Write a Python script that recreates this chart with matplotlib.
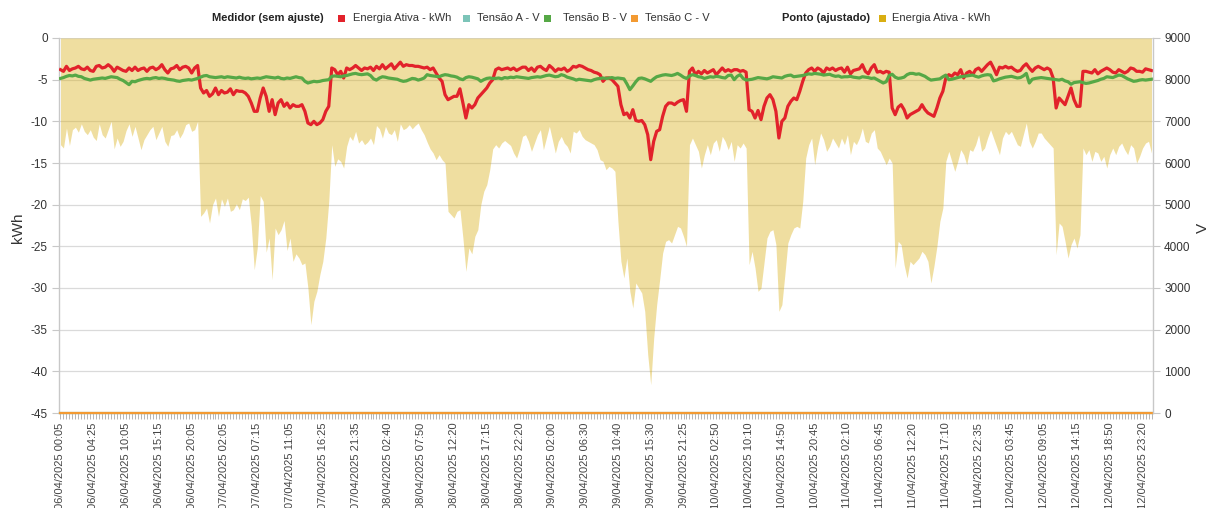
import matplotlib
matplotlib.use("Agg")
import matplotlib.pyplot as plt
from matplotlib.patches import Rectangle
import numpy as np

plt.rcParams['font.family'] = ['Liberation Sans', 'DejaVu Sans']
plt.rcParams['axes.unicode_minus'] = False

# ---------------- data ----------------
tick_labels = [
    "06/04/2025 00:05", "06/04/2025 04:25", "06/04/2025 10:05", "06/04/2025 15:15",
    "06/04/2025 20:05", "07/04/2025 02:05", "07/04/2025 07:15", "07/04/2025 11:05",
    "07/04/2025 16:25", "07/04/2025 21:35", "08/04/2025 02:40", "08/04/2025 07:50",
    "08/04/2025 12:20", "08/04/2025 17:15", "08/04/2025 22:20", "09/04/2025 02:00",
    "09/04/2025 06:30", "09/04/2025 10:40", "09/04/2025 15:30", "09/04/2025 21:25",
    "10/04/2025 02:50", "10/04/2025 10:10", "10/04/2025 14:50", "10/04/2025 20:45",
    "11/04/2025 02:10", "11/04/2025 06:45", "11/04/2025 12:20", "11/04/2025 17:10",
    "11/04/2025 22:35", "12/04/2025 03:45", "12/04/2025 09:05", "12/04/2025 14:15",
    "12/04/2025 18:50", "12/04/2025 23:20",
]
label_every = 11

# Ponto (ajustado) - Energia Ativa - kWh
ponto_kwh = [
    -12.8, -13.2, -10.8, -12.9, -11.0, -10.7, -11.3, -10.3, -11.2, -11.6,
    -11.0, -11.9, -12.3, -10.3, -11.6, -12.0, -11.0, -10.0, -13.3, -12.0,
    -13.0, -12.4, -11.1, -10.3, -11.8, -10.6, -12.0, -13.4, -12.2, -11.6,
    -11.0, -10.6, -12.2, -11.4, -10.6, -12.4, -13.0, -11.7, -11.6, -11.0,
    -12.0, -11.4, -10.4, -10.2, -11.2, -11.0, -10.0,
    -21.4, -21.0, -20.4, -22.2, -20.0, -19.2, -21.4, -19.3, -20.2, -19.2,
    -20.8, -20.6, -19.9, -20.6, -19.3, -19.5, -19.1, -22.5, -27.8, -25.2,
    -18.9, -19.6, -25.7, -24.0, -29.0, -22.8, -23.6, -23.0, -21.9, -25.5,
    -24.0, -26.8, -25.9, -26.4, -27.2, -27.0, -30.0, -34.4, -31.6, -30.4,
    -28.4, -26.8, -24.0, -19.6, -12.8,
    -15.4, -14.5, -14.8, -15.6, -13.0, -11.8, -12.3, -11.2, -12.6, -12.2,
    -12.8, -12.5, -12.0, -12.8, -10.5, -10.9, -12.0, -10.6, -11.4, -11.6,
    -11.0, -12.4, -10.3, -11.0, -10.8, -10.4, -10.9, -10.5, -10.2, -11.0,
    -11.6, -12.5, -13.3, -13.8, -14.6, -14.0, -14.6, -15.0,
    -20.8, -21.2, -21.6, -20.8, -20.6, -24.0, -28.0, -25.2, -25.9, -23.8,
    -23.0, -20.0, -18.4, -17.6, -15.8, -13.3,
    -12.8, -13.2, -12.6, -12.3, -12.6, -12.9, -13.8, -14.4, -13.3, -11.8,
    -11.6, -12.4, -13.6, -12.6, -11.6, -11.0, -13.4, -12.0, -10.6, -12.2,
    -13.8, -12.4, -11.8, -12.6, -13.0, -13.8, -11.2, -11.4, -11.0, -11.8,
    -12.2, -12.4, -12.6, -12.8, -13.4, -14.6, -14.8, -15.8, -15.4, -15.6,
    -16.0,
    -22.0, -26.8, -28.8, -26.4, -30.4, -32.4, -29.4, -30.0, -30.6, -32.8,
    -38.0, -41.6, -36.0, -32.0, -29.0, -25.8, -24.4, -24.2, -24.6, -23.6,
    -22.6, -22.8, -23.8, -25.0,
    -12.8, -12.0, -12.8, -13.6, -15.6, -14.0, -12.8, -14.0, -12.6, -12.2,
    -13.6, -11.8, -12.4, -13.4, -12.4, -14.8, -12.8, -13.2, -12.6, -13.2,
    -27.2, -25.6, -27.6, -30.4, -30.0, -27.0, -24.0, -23.2, -23.0, -24.8,
    -32.8, -32.0, -28.4, -24.6, -23.6, -22.8, -22.6, -22.8, -19.6,
    -14.4, -12.8, -12.0, -15.2, -13.0, -11.4, -12.2, -13.6, -13.0, -12.0,
    -12.6, -13.2, -12.0, -12.8, -11.6, -14.0, -12.4, -12.8, -12.0, -10.8,
    -12.4, -12.6, -11.4, -11.0, -13.2, -13.6, -14.4, -15.2, -14.4,
    -15.0, -27.6, -24.4, -24.8, -27.2, -28.8, -26.8, -27.2, -26.8, -26.4,
    -25.6, -26.0, -26.8, -29.4, -27.4, -25.0, -22.0, -20.4, -14.8,
    -13.6, -14.8, -16.0, -14.8, -13.4, -14.0, -15.2, -13.4, -13.6, -12.8,
    -11.6, -13.6, -13.2, -12.0, -11.0, -12.0, -13.0, -14.0, -12.0, -11.2,
    -11.6, -11.2, -12.0, -12.8, -13.0, -11.6, -10.2, -12.4, -13.2, -12.4,
    -11.4, -11.4, -12.0, -12.4, -12.8, -13.2,
    -26.0, -22.2, -22.6, -24.4, -26.4, -24.8, -24.0, -25.2, -23.6,
    -13.2, -14.0, -13.4, -14.8, -13.6, -13.8, -14.8, -14.2, -15.6, -14.0,
    -13.2, -14.0, -13.0, -12.6, -13.4, -14.0, -12.8, -13.2, -15.0, -14.2,
    -13.2, -12.6, -12.4, -13.8,
]

# Medidor (sem ajuste) - Energia Ativa - kWh
medidor_kwh = [
    -3.8, -4.0, -3.4, -3.9, -3.7, -3.6, -3.4, -3.7, -3.8, -3.5,
    -3.9, -4.0, -3.4, -3.3, -3.6, -3.5, -3.2, -3.5, -4.0, -3.5,
    -3.7, -3.9, -4.0, -3.6, -3.9, -3.5, -3.9, -3.7, -3.6, -4.0,
    -3.6, -3.5, -3.8, -3.6, -3.2, -3.8, -4.2, -3.7, -3.6, -3.3,
    -3.8, -3.5, -3.4, -3.6, -4.2, -3.6, -3.3,
    -6.0, -6.6, -6.3, -7.0, -6.7, -6.0, -6.8, -6.3, -6.6, -6.5,
    -6.1, -6.8, -6.3, -6.4, -6.4, -6.6, -7.0, -7.8, -8.8, -8.8,
    -7.2, -6.0, -7.0, -8.8, -7.4, -9.2, -7.8, -7.4, -8.2, -7.8,
    -8.4, -8.0, -8.2, -8.2, -8.0, -8.8, -10.2, -10.4, -10.0, -10.4,
    -10.2, -9.8, -8.8, -8.2, -3.6,
    -3.8, -4.4, -4.0, -4.8, -3.6, -3.8, -3.6, -3.3, -3.6, -3.9,
    -3.6, -3.7, -3.5, -3.9, -3.4, -3.7, -3.2, -3.7, -3.4, -3.1,
    -3.7, -3.3, -2.9, -3.4, -3.2, -3.3, -3.3, -3.4, -3.4, -3.5,
    -3.6, -3.5, -3.8, -3.6, -4.2, -4.8, -5.2, -6.8,
    -7.4, -7.2, -7.0, -7.0, -6.1, -7.8, -9.6, -8.0, -8.4, -8.0,
    -7.2, -6.8, -6.4, -6.0, -5.4, -5.0,
    -3.8, -3.6, -3.8, -3.7, -3.6, -3.8, -3.6, -3.9, -3.7, -3.5,
    -3.5, -3.9, -3.6, -4.0, -3.5, -3.4, -3.7, -3.9, -3.3, -3.6,
    -4.0, -3.7, -3.8, -3.6, -4.0, -3.8, -3.4, -3.5, -3.3, -3.4,
    -3.6, -3.8, -3.9, -4.1, -4.2, -4.4, -5.2, -4.8, -4.8, -5.0,
    -5.4,
    -5.8, -8.0, -9.2, -9.0, -9.6, -8.6, -9.9, -10.0, -9.9, -10.4,
    -11.6, -14.6, -12.4, -11.2, -11.0, -9.4, -8.2, -7.8, -7.8, -8.0,
    -7.7, -7.5, -7.4, -8.8,
    -4.0, -3.6, -4.4, -4.0, -4.3, -3.9, -4.2, -4.0, -3.8, -4.4,
    -4.0, -3.6, -4.0, -3.8, -4.0, -3.8, -3.8, -4.0, -3.9, -4.1,
    -8.6, -8.8, -9.6, -8.7, -9.8, -8.2, -7.2, -6.8, -7.4, -8.8,
    -12.0, -10.0, -9.6, -8.2, -7.6, -7.2, -7.4, -6.4, -5.2,
    -4.2, -3.8, -3.6, -4.0, -3.6, -3.8, -4.2, -3.6, -3.8, -3.6,
    -3.9, -3.7, -3.6, -4.1, -3.5, -4.3, -3.9, -3.8, -3.7, -3.2,
    -4.0, -4.3, -3.6, -3.2, -4.1, -4.0, -4.2, -4.0, -4.1,
    -8.4, -9.2, -8.3, -8.0, -8.6, -9.6, -9.2, -9.0, -8.8, -8.6,
    -8.0, -8.6, -9.0, -9.2, -9.4, -8.4, -7.2, -6.4, -4.8,
    -4.4, -4.6, -4.2, -4.4, -3.8, -4.8, -4.2, -4.0, -4.4, -3.8,
    -3.6, -4.0, -3.6, -3.2, -2.9, -3.6, -4.4, -3.5, -3.6, -3.4,
    -3.6, -3.5, -3.8, -4.0, -3.9, -3.4, -3.1, -3.6, -4.0, -3.6,
    -3.4, -3.6, -3.8, -3.6, -3.8, -4.8,
    -8.4, -7.2, -7.6, -8.0, -7.0, -6.0, -7.4, -8.2, -8.2,
    -4.0, -4.0, -4.1, -4.2, -3.8, -4.3, -4.0, -3.8, -3.6, -3.8,
    -4.1, -4.2, -3.8, -4.0, -4.2, -4.0, -3.6, -3.7, -4.0, -4.0,
    -4.1, -3.7, -3.8, -3.9,
]

# Medidor (sem ajuste) - Tensão B - V
tensao_b = [
    8030, 8050, 8080, 8100, 8090, 8110, 8080, 8070, 8030, 8010,
    7990, 8010, 8020, 8030, 8040, 8030, 8050, 8070, 8060, 8050,
    8010, 7980, 7930, 7880, 7960, 7950, 7980, 8000, 8020, 8030,
    8020, 8040, 8050, 8030, 8040, 8030, 8010, 8000, 7990, 7970,
    7960, 7980, 7990, 8000, 7990, 8010, 8030,
    8060, 8090, 8100, 8070, 8060, 8050, 8060, 8070, 8050, 8070,
    8060, 8050, 8040, 8060, 8040, 8030, 8040, 8020, 8030, 8040,
    8030, 8050, 8070, 8060, 8050, 8040, 8060, 8030, 8020, 8040,
    8030, 8050, 8070, 8050, 8040, 7960, 7920, 7940, 7960, 7950,
    7960, 7980, 7990, 8000, 8080,
    8090, 8080, 8070, 8090, 8100, 8120, 8140, 8150, 8130, 8120,
    8130, 8140, 8100, 8020, 7990, 8040, 8070, 8060, 8040, 8030,
    8020, 8010, 7980, 7960, 7970, 8000, 8030, 8020, 7990, 8010,
    8040, 8120, 8100, 8090, 8080, 8070, 8100, 8120,
    8110, 8090, 8080, 8060, 8020, 8000, 8050, 8070, 8060, 8040,
    8020, 7960, 8000, 8030, 8040, 8030,
    8030, 8040, 8020, 8050, 8040, 8060, 8050, 8070, 8060, 8050,
    8040, 8030, 8050, 8060, 8070, 8060, 8080, 8100, 8110, 8090,
    8070, 8080, 8120, 8100, 8060, 8040, 8020, 7990, 8010, 8000,
    7990, 7980, 7970, 8000, 8020, 8030, 8040, 8030, 8040, 8050,
    8030,
    8040, 8030, 8020, 7900, 7760, 7850, 7950, 8030, 8040, 8020,
    7990, 7960, 8020, 8070, 8090, 8110, 8120, 8110, 8100, 8120,
    8150, 8110, 8060, 8030,
    8090, 8120, 8100, 8070, 8060, 8030, 8050, 8070, 8060, 8080,
    8070, 8050, 8040, 8100, 8110, 8000, 8080, 8120, 8030, 7990,
    8000, 8010, 8030, 8050, 8040, 8030, 8020, 8040, 8070, 8060,
    8050, 8040, 8080, 8100, 8110, 8070, 8080, 8090, 8100,
    8120, 8140, 8130, 8150, 8140, 8130, 8110, 8120, 8130, 8100,
    8080, 8090, 8060, 8070, 8070, 8080, 8060, 8050, 8040, 8070,
    8060, 8050, 8030, 8040, 8000, 7960, 7920, 7950, 8100,
    8130, 8060, 8030, 8040, 8060, 8120, 8150, 8150, 8130, 8140,
    8110, 8080, 8030, 7990, 8000, 8010, 8020, 8070, 8110,
    8000, 8010, 8030, 8050, 8070, 8080, 8090, 8100, 8110, 8080,
    8060, 8090, 8110, 8120, 8110, 7970, 7990, 8020, 8040, 8060,
    8070, 8080, 8060, 8040, 8050, 8090, 8150, 7920, 8010, 8030,
    8040, 8050, 8040, 8030, 8020, 8010,
    8000, 7990, 8010, 7970, 7950, 7890, 7930, 7940, 7950,
    7930, 7910, 7920, 7940, 7960, 7980, 8010, 8030, 8070, 8060,
    8050, 8080, 8110, 8100, 8060, 8020, 7990, 7960, 7970, 7990,
    8000, 7990, 8000, 8010,
]

# Tensão A and Tensão C read as 0 V all along (flat line on the x axis)
tensao_a = [0.0] * len(ponto_kwh)
tensao_c = [0.0] * len(ponto_kwh)

# ---------------- style ----------------
RED = '#E2222B'
TEAL = '#7CC4B8'
GREEN = '#56A846'
ORANGE = '#F39A32'
GOLD = '#D9AE12'
TXT = '#333333'
AXC = '#C8C8C8'

W, H = 1215, 508
fig = plt.figure(figsize=(W / 100, H / 100), dpi=100)
L, R, T, B = 59, 1153, 38, 413
ax = fig.add_axes([L / W, 1 - B / H, (R - L) / W, (B - T) / H])
ax2 = ax.twinx()

n = len(ponto_kwh)
xs = np.arange(n)
ax.fill_between(xs, 0, ponto_kwh, color=GOLD, alpha=0.4, linewidth=0, zorder=1)
ax.plot(np.arange(len(medidor_kwh)), medidor_kwh, color=RED, lw=2.3, zorder=3,
        solid_joinstyle='round')
ax2.plot(np.arange(len(tensao_a)), tensao_a, color=TEAL, lw=1.6, clip_on=False)
ax2.plot(np.arange(len(tensao_b)), tensao_b, color=GREEN, lw=2.3, solid_joinstyle='round')
ax2.plot(np.arange(len(tensao_c)), tensao_c, color=ORANGE, lw=1.6, clip_on=False)

ax.set_xlim(-0.5, n - 0.5)
ax.set_ylim(-45, 0)
ax2.set_ylim(0, 9000)

ax.set_yticks(np.arange(-45, 1, 5))
ax.set_yticklabels([str(v) for v in range(-45, 1, 5)])
ax2.set_yticks(np.arange(0, 9001, 1000))
ax2.set_yticklabels([str(v) for v in range(0, 9001, 1000)])

ax.set_xticks(np.arange(0, len(tick_labels) * label_every, label_every))
ax.set_xticklabels(tick_labels, rotation=90)
ax.set_xticks(xs, minor=True)

ax.yaxis.grid(True, color='#DADADA', lw=0.9)
ax.set_axisbelow(True)
ax.set_facecolor('none')
ax2.set_facecolor('none')

for a in (ax, ax2):
    for s in a.spines.values():
        s.set_color(AXC)
        s.set_linewidth(1.0)
    a.spines['top'].set_visible(False)
ax.spines['right'].set_visible(False)
ax2.spines['left'].set_visible(False)
ax2.spines['bottom'].set_visible(False)

ax.tick_params(axis='y', length=5, width=0.8, color=AXC, labelsize=8.5,
               labelcolor=TXT, pad=3)
ax2.tick_params(axis='y', length=5, width=0.8, color=AXC, labelsize=8.5,
                labelcolor=TXT, pad=3)
ax.tick_params(axis='x', which='both', length=4, width=0.6, color='#AAAAAA',
               labelsize=8, labelcolor='#444444', pad=3)

fig.text(18 / W, 1 - 228 / H, 'kWh', rotation=90, ha='center', va='center',
         fontsize=11, color=TXT)
fig.text(1203 / W, 1 - 228 / H, 'V', rotation=90, ha='center', va='center',
         fontsize=11, color=TXT)

# ---------------- legend (manual, top row) ----------------
ly = 1 - 18 / H
def square(cx, color):
    s = 7
    fig.add_artist(Rectangle(((cx - s / 2) / W, ly - (s / 2) / H), s / W, s / H,
                             transform=fig.transFigure, color=color, lw=0))

fig.text(212 / W, ly, 'Medidor (sem ajuste)', ha='left', va='center',
         fontsize=8, fontweight='bold', color='#222222')
items = [(341, RED, 353, 'Energia Ativa - kWh'),
         (466, TEAL, 477, 'Tensão A - V'),
         (547, GREEN, 563, 'Tensão B - V'),
         (634, ORANGE, 645, 'Tensão C - V')]
for cx, col, tx, lab in items:
    square(cx, col)
    fig.text(tx / W, ly, lab, ha='left', va='center', fontsize=8, color=TXT)

fig.text(782 / W, ly, 'Ponto (ajustado)', ha='left', va='center',
         fontsize=8, fontweight='bold', color='#222222')
square(882, GOLD)
fig.text(892 / W, ly, 'Energia Ativa - kWh', ha='left', va='center', fontsize=8,
         color=TXT)

fig.savefig('out.png', dpi=100)
